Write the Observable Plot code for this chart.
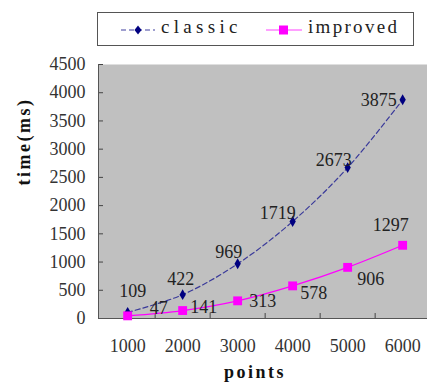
<!DOCTYPE html>
<html><head><meta charset="utf-8">
<script src="https://cdn.jsdelivr.net/npm/d3@7"></script>
<script src="https://cdn.jsdelivr.net/npm/@observablehq/plot@0.6"></script>
<style>
body{margin:0;background:#fff;}
#wrap{position:relative;width:427px;height:385px;font-family:"Liberation Serif",serif;}
#legend{position:absolute;left:97px;top:12px;width:315px;height:32px;border:1px solid #555;background:#fff;box-sizing:content-box;}
#legend svg{position:absolute;}
#legend span{position:absolute;top:3px;font-size:19px;color:#222;}
</style></head>
<body>
<div id="wrap">
  <div id="chart"></div>
  <div id="legend">
    <svg style="left:22px;top:10px" width="36" height="14"><line x1="1" y1="7" x2="35" y2="7" stroke="#8080c0" stroke-width="1.3" stroke-dasharray="5,3"/><path d="M18,2.5 L21.5,7 L18,11.5 L14.5,7Z" fill="#000080"/></svg>
    <span style="left:63px;letter-spacing:4.3px">classic</span>
    <svg style="left:167px;top:10px" width="38" height="14"><line x1="1" y1="7" x2="37" y2="7" stroke="#ff80ff" stroke-width="1.3"/><rect x="14" y="2.5" width="9" height="9" fill="#ff00ff"/></svg>
    <span style="left:210px;letter-spacing:2.3px">improved</span>
  </div>
</div>
<script>
const points = [1000, 2000, 3000, 4000, 5000, 6000];
const classic = [109, 422, 969, 1719, 2673, 3875];
const improved = [47, 141, 313, 578, 906, 1297];
const yTicks = [0, 500, 1000, 1500, 2000, 2500, 3000, 3500, 4000, 4500];
const xTickLabels = ["1000", "2000", "3000", "4000", "5000", "6000"];
const xBoundaries = [1500, 2500, 3500, 4500, 5500];

// label offsets (pixels) — styling only
const classicOff = [[5,-21],[-2,-15],[-9,-12],[-15,-8],[-14,-7],[-24,0]];
const improvedOff = [[31,-8],[21,-3],[25,0],[21,7],[23,12],[-12,-20]];

const cData = points.map((p, i) => ({x: p, y: classic[i], i}));
const iData = points.map((p, i) => ({x: p, y: improved[i], i}));

const labelMarks = [];
cData.forEach((d, i) => labelMarks.push(Plot.text([d], {x: "x", y: "y", text: d => String(d.y), dx: classicOff[i][0], dy: classicOff[i][1], fontSize: 18, fill: "#222"})));
iData.forEach((d, i) => labelMarks.push(Plot.text([d], {x: "x", y: "y", text: d => String(d.y), dx: improvedOff[i][0], dy: improvedOff[i][1], fontSize: 18, fill: "#222"})));

const chart = Plot.plot({
  width: 427,
  height: 385,
  marginTop: 64,
  marginBottom: 67,
  marginLeft: 98,
  marginRight: 0,
  style: {fontFamily: "'Liberation Serif', serif", background: "transparent"},
  x: {domain: [470, 6470], range: [98, 428]},
  y: {domain: [0, 4500], range: [318, 64]},
  marks: [
    Plot.frame({fill: "#c0c0c0", stroke: null}),
    Plot.axisY(yTicks, {tickSize: 0, tickPadding: 13, fontSize: 18, fill: "#333", label: null, tickFormat: d => String(d)}),
    Plot.axisY(yTicks.filter(v => v > 0), {tickSize: -5, text: null, stroke: "#444", label: null}),
    Plot.axisX(points, {tickSize: 0, tickPadding: 21, fontSize: 18, fill: "#333", text: (d, i) => xTickLabels[i], label: null}),
    Plot.axisX(xBoundaries, {tickSize: -5, text: null, stroke: "#444", label: null}),
    Plot.ruleX([470], {stroke: "#555"}),
    Plot.ruleY([0], {stroke: "#555"}),
    Plot.line(cData, {x: "x", y: "y", curve: "catmull-rom", stroke: "#3a3a9a", strokeWidth: 1.2, strokeDasharray: "5,3"}),
    Plot.line(iData, {x: "x", y: "y", curve: "catmull-rom", stroke: "#ff00ff", strokeWidth: 1.2}),
    Plot.dot(cData, {x: "x", y: "y", symbol: "diamond", r: 3.3, fill: "#000080"}),
    Plot.dot(iData, {x: "x", y: "y", symbol: "square", r: 5, fill: "#ff00ff"}),
    ...labelMarks,
    Plot.text(["time(ms)"], {frameAnchor: "left", dx: -74, dy: -6, rotate: -90, fontSize: 18, fontWeight: "bold", fill: "#111", text: d => d}),
    Plot.text(["points"], {frameAnchor: "bottom", dx: -8, dy: 59, fontSize: 18, fontWeight: "bold", fill: "#111", text: d => d})
  ]
});
document.getElementById("chart").appendChild(chart);
d3.select(chart).selectAll("text").filter(function(){ const t = this.textContent; return t === "time(ms)" || t === "points"; }).style("letter-spacing", "2.5px");
</script>
</body></html>
